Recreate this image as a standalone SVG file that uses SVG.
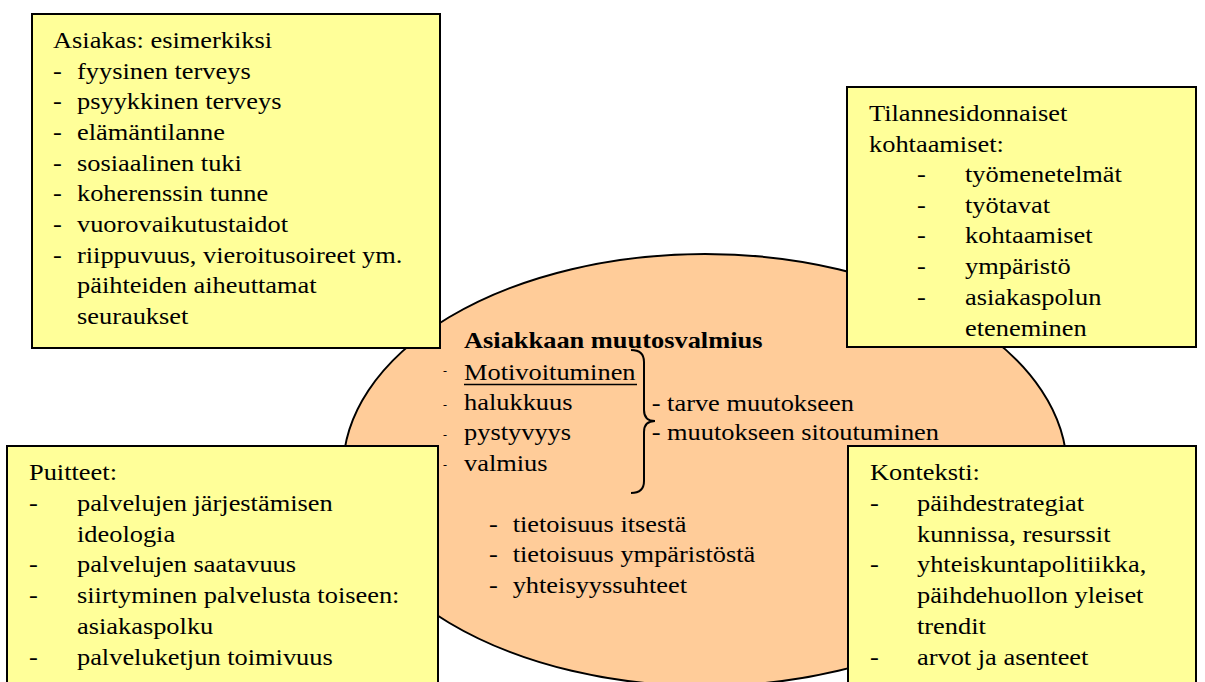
<svg xmlns="http://www.w3.org/2000/svg" width="1205" height="682" viewBox="0 0 1205 682">
<style>
.box{fill:#FFFF99;stroke:#000;stroke-width:2}
.ell{fill:#FFCC99;stroke:#000;stroke-width:2}
.t{font-family:'Liberation Serif','Times New Roman','DejaVu Serif',serif;font-size:24px;fill:#000}
.b{font-weight:bold}
.sm{font-size:12px}
.br{fill:none;stroke:#000;stroke-width:2}
</style>
<rect width="1205" height="682" fill="#fff"/>
<g id="center" class="t" font-family="Liberation Serif, Times New Roman, serif">
<ellipse class="ell" cx="705" cy="470" rx="362" ry="216"/>
<text transform="translate(464,348.3) scale(1.1 1)"><tspan class="b" x="0" y="0">Asiakkaan muutosvalmius</tspan><tspan x="0" y="31.7">Motivoituminen</tspan><tspan x="0" y="61.7">halukkuus</tspan><tspan x="0" y="91.7">pystyvyys</tspan><tspan x="0" y="122.4">valmius</tspan></text>
<line x1="464" y1="384.5" x2="637" y2="384.5" stroke="#000" stroke-width="1.5"/>
<text class="sm" x="443" y="375">-</text>
<text class="sm" x="443" y="409">-</text>
<text class="sm" x="443" y="438.5">-</text>
<text class="sm" x="443" y="468.5">-</text>
<path class="br" d="M631 350 Q644 350 644 362 L644 410 Q644 421 655 421 Q644 421 644 432 L644 481 Q644 493 631 493"/>
<text transform="translate(651.7,410.7) scale(1.1 1)"><tspan x="0" y="0">- tarve muutokseen</tspan><tspan x="0" y="29.3">- muutokseen sitoutuminen</tspan></text>
<text transform="translate(489,531.7) scale(1.1 1)"><tspan x="0" y="0">-</tspan><tspan x="21.5" y="0">tietoisuus itsestä</tspan><tspan x="0" y="30.6">-</tspan><tspan x="21.5" y="30.6">tietoisuus ympäristöstä</tspan><tspan x="0" y="61.3">-</tspan><tspan x="21.5" y="61.3">yhteisyyssuhteet</tspan></text>
</g>
<g id="connectors"></g>
<g id="asiakas" class="t" font-family="Liberation Serif, Times New Roman, serif">
<rect class="box" x="32" y="14" width="408" height="334"/>
<text transform="translate(53,48) scale(1.1 1)"><tspan x="0" y="0">Asiakas: esimerkiksi</tspan><tspan x="0" y="30.7">-</tspan><tspan x="21.8" y="30.7">fyysinen terveys</tspan><tspan x="0" y="61.4">-</tspan><tspan x="21.8" y="61.4">psyykkinen terveys</tspan><tspan x="0" y="92">-</tspan><tspan x="21.8" y="92">elämäntilanne</tspan><tspan x="0" y="122.7">-</tspan><tspan x="21.8" y="122.7">sosiaalinen tuki</tspan><tspan x="0" y="153.4">-</tspan><tspan x="21.8" y="153.4">koherenssin tunne</tspan><tspan x="0" y="184">-</tspan><tspan x="21.8" y="184">vuorovaikutustaidot</tspan><tspan x="0" y="214.8">-</tspan><tspan x="21.8" y="214.8">riippuvuus, vieroitusoireet ym.</tspan><tspan x="21.8" y="245.5">päihteiden aiheuttamat</tspan><tspan x="21.8" y="276">seuraukset</tspan></text>
</g>
<g id="tilanne" class="t" font-family="Liberation Serif, Times New Roman, serif">
<rect class="box" x="847" y="87" width="349" height="260"/>
<text transform="translate(869,120.7) scale(1.1 1)"><tspan x="0" y="0">Tilannesidonnaiset</tspan><tspan x="0" y="31">kohtaamiset:</tspan><tspan x="43.6" y="61">-</tspan><tspan x="87.3" y="61">työmenetelmät</tspan><tspan x="43.6" y="92">-</tspan><tspan x="87.3" y="92">työtavat</tspan><tspan x="43.6" y="122.6">-</tspan><tspan x="87.3" y="122.6">kohtaamiset</tspan><tspan x="43.6" y="153.3">-</tspan><tspan x="87.3" y="153.3">ympäristö</tspan><tspan x="43.6" y="184.3">-</tspan><tspan x="87.3" y="184.3">asiakaspolun</tspan><tspan x="87.3" y="215">eteneminen</tspan></text>
</g>
<g id="puitteet" class="t" font-family="Liberation Serif, Times New Roman, serif">
<rect class="box" x="7" y="446" width="431" height="250"/>
<text transform="translate(29,480) scale(1.1 1)"><tspan x="0" y="0">Puitteet:</tspan><tspan x="0" y="31">-</tspan><tspan x="43.6" y="31">palvelujen järjestämisen</tspan><tspan x="43.6" y="61.7">ideologia</tspan><tspan x="0" y="92.5">-</tspan><tspan x="43.6" y="92.5">palvelujen saatavuus</tspan><tspan x="0" y="123">-</tspan><tspan x="43.6" y="123">siirtyminen palvelusta toiseen:</tspan><tspan x="43.6" y="154">asiakaspolku</tspan><tspan x="0" y="184.7">-</tspan><tspan x="43.6" y="184.7">palveluketjun toimivuus</tspan></text>
</g>
<g id="konteksti" class="t" font-family="Liberation Serif, Times New Roman, serif">
<rect class="box" x="848" y="446" width="348" height="250"/>
<text transform="translate(870,480) scale(1.1 1)"><tspan x="0" y="0">Konteksti:</tspan><tspan x="0" y="31">-</tspan><tspan x="42.7" y="31">päihdestrategiat</tspan><tspan x="42.7" y="61.7">kunnissa, resurssit</tspan><tspan x="0" y="92.5">-</tspan><tspan x="42.7" y="92.5">yhteiskuntapolitiikka,</tspan><tspan x="42.7" y="123">päihdehuollon yleiset</tspan><tspan x="42.7" y="154">trendit</tspan><tspan x="0" y="184.7">-</tspan><tspan x="42.7" y="184.7">arvot ja asenteet</tspan></text>
</g>
</svg>
